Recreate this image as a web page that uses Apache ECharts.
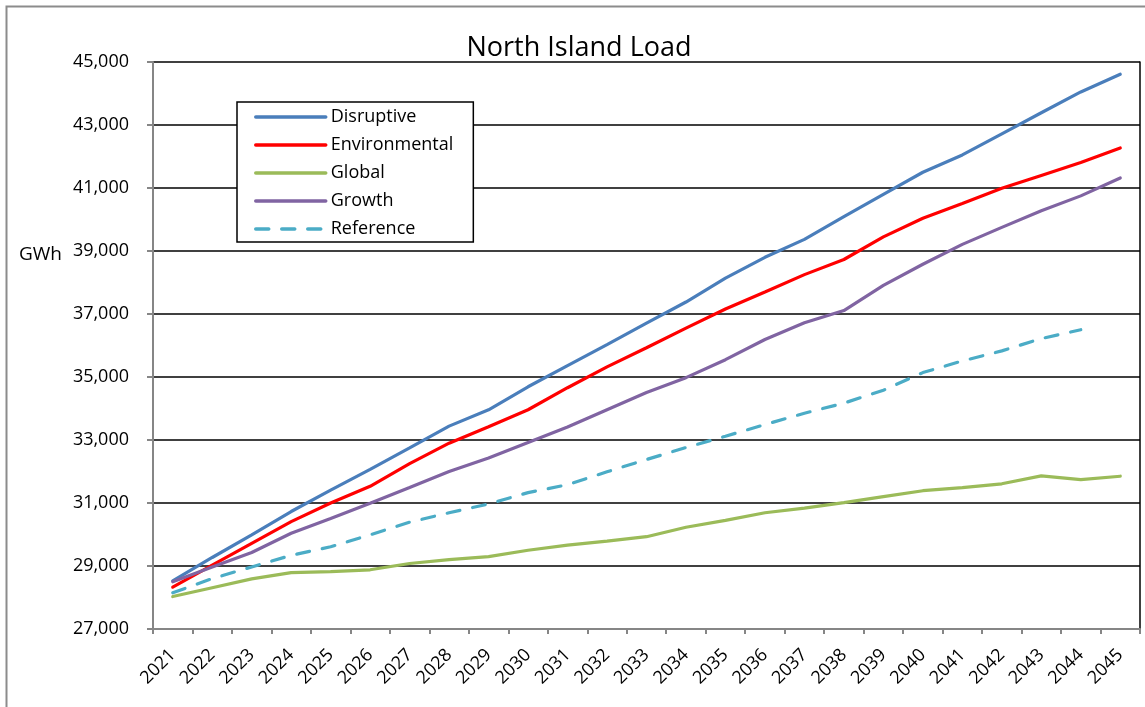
<!DOCTYPE html>
<html>
<head>
<meta charset="utf-8">
<title>North Island Load</title>
<script src="https://cdn.jsdelivr.net/npm/echarts@6/dist/echarts.min.js"></script>
<style>
  html, body { margin: 0; padding: 0; background: #ffffff; }
  #chart { width: 1145px; height: 707px; }
</style>
</head>
<body>
<div id="chart"></div>
<script>
// Annual North Island electricity load by scenario (GWh)
const years = ['2021', '2022', '2023', '2024', '2025', '2026', '2027', '2028', '2029', '2030',
               '2031', '2032', '2033', '2034', '2035', '2036', '2037', '2038', '2039', '2040',
               '2041', '2042', '2043', '2044', '2045'];

const disruptive = [28530, 29270, 29990, 30730, 31410, 32070, 32750, 33440, 33960, 34690,
                    35360, 36030, 36710, 37380, 38140, 38800, 39370, 40090, 40800, 41500,
                    42050, 42720, 43390, 44050, 44610];

const environmental = [28330, 29030, 29720, 30410, 31000, 31530, 32250, 32900, 33420, 33960,
                       34660, 35320, 35930, 36550, 37160, 37700, 38250, 38730, 39450, 40040,
                       40510, 40990, 41400, 41810, 42270];

const global = [28030, 28310, 28590, 28790, 28820, 28880, 29080, 29200, 29300, 29500,
                29660, 29790, 29930, 30230, 30450, 30690, 30840, 31010, 31200, 31390,
                31490, 31610, 31860, 31740, 31850];

const growth = [28500, 28970, 29430, 30040, 30510, 30990, 31490, 32000, 32430, 32920,
                33410, 33960, 34510, 34980, 35550, 36190, 36720, 37110, 37910, 38580,
                39210, 39750, 40280, 40750, 41320];

// Reference scenario runs to 2044 only
const reference = [28150, 28600, 28970, 29340, 29610, 29990, 30390, 30690, 30970, 31330,
                   31580, 31990, 32380, 32760, 33120, 33490, 33850, 34170, 34580, 35140,
                   35510, 35830, 36220, 36500, null];

const yTicks = { min: 27000, max: 45000, step: 2000 };

const FONT = '"Open Sans", "Noto Sans", sans-serif';
const AXIS_GREY = '#868686';

const chart = echarts.init(document.getElementById('chart'), null, { renderer: 'canvas' });

function lineSeries(name, data, color, dashed) {
  return {
    name: name,
    type: 'line',
    data: data,
    symbol: 'none',
    smooth: false,
    connectNulls: false,
    lineStyle: {
      color: color,
      width: 3.2,
      type: dashed ? [13, 13] : 'solid',
      cap: 'round'
    },
    itemStyle: { color: color },
    emphasis: { disabled: true }
  };
}

chart.setOption({
  animation: false,
  backgroundColor: '#ffffff',
  title: [
    {
      text: 'North Island Load',
      left: 574,
      top: 30,
      textAlign: 'center',
      textStyle: { fontFamily: FONT, fontSize: 27, fontWeight: 'normal', color: '#000000' }
    },
    {
      text: 'GWh',
      left: 14,
      top: 240,
      textStyle: { fontFamily: FONT, fontSize: 19, fontWeight: 'normal', color: '#000000' }
    }
  ],
  graphic: [
    {
      type: 'rect',
      z: -10,
      silent: true,
      shape: { x: 6.5, y: 6.5, width: 1200, height: 800 },
      style: { fill: null, stroke: '#8c8c8c', lineWidth: 2 }
    }
  ],
  legend: {
    orient: 'vertical',
    left: 237,
    top: 102,
    padding: [6, 20, 4, 17],
    itemGap: 10,
    itemWidth: 70,
    itemHeight: 14,
    backgroundColor: '#ffffff',
    borderColor: '#000000',
    borderWidth: 1.5,
    itemStyle: { opacity: 0 },
    lineStyle: { width: 3.5 },
    textStyle: { fontFamily: FONT, fontSize: 18, color: '#000000', lineHeight: 18 },
    data: ['Disruptive', 'Environmental', 'Global', 'Growth', 'Reference']
  },
  grid: {
    left: 153,
    right: 5,
    top: 62,
    bottom: 78,
    containLabel: false
  },
  xAxis: {
    type: 'category',
    data: years,
    boundaryGap: true,
    axisLine: { lineStyle: { color: AXIS_GREY, width: 2 } },
    axisTick: { show: true, length: 5, lineStyle: { color: AXIS_GREY, width: 2 } },
    axisLabel: {
      rotate: 45,
      margin: 23,
      interval: 0,
      fontFamily: FONT,
      fontSize: 18,
      color: '#000000'
    },
    splitLine: { show: false }
  },
  yAxis: [
    {
      type: 'value',
      min: yTicks.min,
      max: yTicks.max,
      interval: yTicks.step,
      axisLine: { show: true, lineStyle: { color: AXIS_GREY, width: 2 } },
      axisTick: { show: true, inside: false, length: 6, lineStyle: { color: AXIS_GREY, width: 2 } },
      axisLabel: {
        margin: 24,
        fontFamily: FONT,
        fontSize: 18,
        color: '#000000',
        formatter: v => v.toLocaleString('en-US')
      },
      splitLine: { show: true, lineStyle: { color: '#000000', width: 1.5 } }
    },
    {
      type: 'value',
      position: 'right',
      min: yTicks.min,
      max: yTicks.max,
      interval: yTicks.step,
      axisLine: { show: true, lineStyle: { color: '#000000', width: 1.5 } },
      axisTick: { show: false },
      axisLabel: { show: false },
      splitLine: { show: false }
    }
  ],
  series: [
    lineSeries('Disruptive', disruptive, '#4a7ebb', false),
    lineSeries('Environmental', environmental, '#ff0000', false),
    lineSeries('Global', global, '#9bbb59', false),
    lineSeries('Growth', growth, '#8064a2', false),
    lineSeries('Reference', reference, '#4bacc6', true)
  ]
});
</script>
</body>
</html>
